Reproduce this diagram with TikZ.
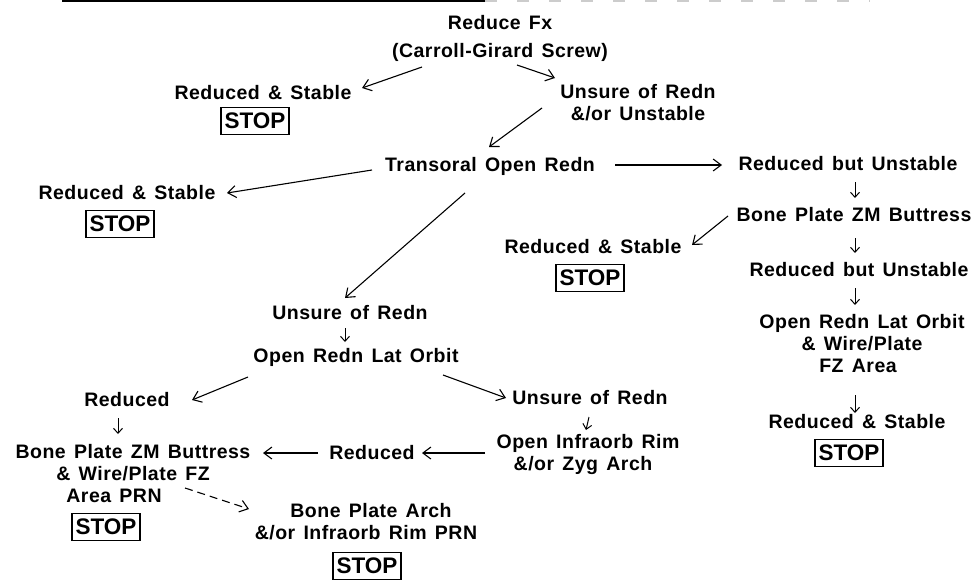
\documentclass[tikz,border=0pt]{standalone}
\usepackage{fontspec}
\setmainfont{Liberation Sans}
\newfontfamily\lblfont{Liberation Sans}[LetterSpace=2.5, WordSpace=1.4]
\usetikzlibrary{arrows.meta}

\tikzset{
  lbl/.style={font=\lblfont\bfseries\fontsize{19.5}{22}\selectfont, inner sep=0pt, align=center},
  stopbox/.style={draw, line width=1.2pt, inner sep=0pt, minimum width=68pt, minimum height=27pt,
                  font=\bfseries\fontsize{22.5}{24}\selectfont},
  arr/.style={line width=1.1pt, -{Straight Barb[length=8pt,width=12pt,line width=1.1pt]}},
  darr/.style={line width=1pt, -{Straight Barb[length=5pt,width=9pt,line width=1pt]}},
  dasharr/.style={arr, dash pattern=on 8pt off 5pt},
}

\begin{document}
\begin{tikzpicture}[x=1pt,y=-1pt]
\useasboundingbox (0,0) rectangle (979,579);

% page rule left over at the top edge
\draw[line width=2pt] (62,1) -- (485,1);
\draw[line width=2pt, gray!40, dash pattern=on 12pt off 20pt] (485,1) -- (870,1);

% nodes
\node[lbl] (n1) at (500,38) {Reduce Fx\\[6pt](Carroll-Girard Screw)};
\node[lbl] (n2) at (263,93) {Reduced \& Stable};
\node[stopbox] (s1) at (255,121) {STOP};
\node[lbl] (n3) at (638,103) {Unsure of Redn\\\&/or Unstable};
\node[lbl] (n4) at (490,166) {Transoral Open Redn};
\node[lbl] (n5) at (127,193) {Reduced \& Stable};
\node[stopbox] (s2) at (120,224) {STOP};
\node[lbl] (n6) at (848,164) {Reduced but Unstable};
\node[lbl] (n7) at (854,215) {Bone Plate ZM Buttress};
\node[lbl] (n8) at (593,247) {Reduced \& Stable};
\node[stopbox] (s3) at (590,278) {STOP};
\node[lbl] (n9) at (859,270) {Reduced but Unstable};
\node[lbl] (n10) at (862,344) {Open Redn Lat Orbit\\\& Wire/Plate\\FZ Area\hspace*{8pt}};
\node[lbl] (n11) at (857,422) {Reduced \& Stable};
\node[stopbox] (s4) at (849,453) {STOP};
\node[lbl] (n12) at (350,313) {Unsure of Redn};
\node[lbl] (n13) at (356,357) {Open Redn Lat Orbit};
\node[lbl] (n14) at (127,400) {Reduced};
\node[lbl] (n15) at (590,398) {Unsure of Redn};
\node[lbl] (n16) at (588,454) {Open Infraorb Rim\\\&/or Zyg Arch\hspace*{10pt}};
\node[lbl] (n17) at (372,453) {Reduced};
\node[lbl] (n18) at (133,474) {Bone Plate ZM Buttress\\\& Wire/Plate FZ\hspace*{23pt}\\Area PRN\hspace*{38pt}};
\node[stopbox] (s5) at (106,527) {STOP};
\node[lbl] (n19) at (366,522) {\hspace*{10pt}Bone Plate Arch\\\&/or Infraorb Rim PRN};
\node[stopbox] (s6) at (367,566) {STOP};

% connectors
\draw[arr] ([shift={(-78,29)}]n1.center) -- ([shift={(99,-5)}]n2.center);
\draw[arr] ([shift={(17,27)}]n1.center) -- ([shift={(-83,-25)}]n3.center);
\draw[arr] ([shift={(-96,5)}]n3.center) -- ([shift={(-1,-19)}]n4.center);
\draw[arr] ([shift={(-118,4)}]n4.center) -- ([shift={(100,0)}]n5.center);
\draw[arr] ([shift={(125,-1)}]n4.center) -- ([shift={(-126,1)}]n6.center);
\draw[arr] ([shift={(-25,27)}]n4.center) -- ([shift={(-5,-15)}]n12.center);
\draw[darr] ([shift={(7,18)}]n6.center) -- ([shift={(1,-17)}]n7.center);
\draw[arr] ([shift={(-126,1)}]n7.center) -- ([shift={(99,-2)}]n8.center);
\draw[darr] ([shift={(1,23)}]n7.center) -- ([shift={(-4,-17)}]n9.center);
\draw[darr] ([shift={(-4,18)}]n9.center) -- ([shift={(-7,-39)}]n10.center);
\draw[darr] ([shift={(-7,51)}]n10.center) -- ([shift={(-2,-9)}]n11.center);
\draw[darr] ([shift={(-5,15)}]n12.center) -- ([shift={(-11,-15)}]n13.center);
\draw[arr] ([shift={(-108,20)}]n13.center) -- ([shift={(65,0)}]n14.center);
\draw[arr] ([shift={(87,18)}]n13.center) -- ([shift={(-84,0)}]n15.center);
\draw[darr] ([shift={(-9,18)}]n14.center) -- ([shift={(-15,-40)}]n18.center);
\draw[darr] ([shift={(-1,19)}]n15.center) -- ([shift={(-2,-24)}]n16.center);
\draw[arr] ([shift={(-103,-1)}]n16.center) -- ([shift={(50,0)}]n17.center);
\draw[arr] ([shift={(-54,0)}]n17.center) -- ([shift={(130,-21)}]n18.center);
\draw[dasharr] ([shift={(52,14)}]n18.center) -- ([shift={(-117,-13)}]n19.center);
\end{tikzpicture}
\end{document}
